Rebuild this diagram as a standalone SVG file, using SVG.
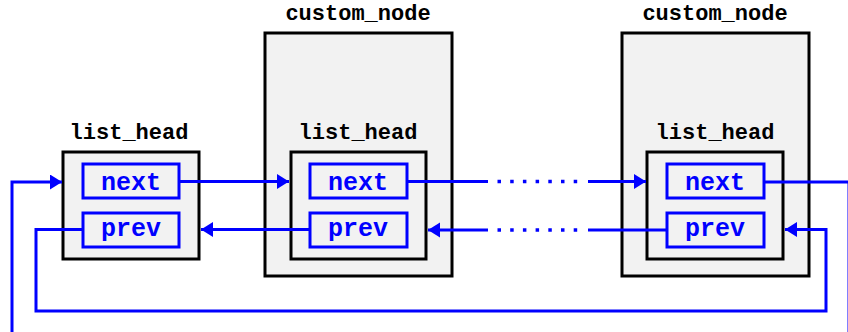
<svg xmlns="http://www.w3.org/2000/svg" width="848" height="332" viewBox="0 0 848 332">
  <style>
    .outer { fill: #f2f2f2; stroke: #000; stroke-width: 3; }
    .field { fill: #f2f2f2; stroke: #0000ff; stroke-width: 3; }
    .title { font-family: "Liberation Mono", "Courier New", monospace; font-weight: bold; font-size: 22px; fill: #000; text-anchor: middle; }
    .ftext { font-family: "Liberation Mono", "Courier New", monospace; font-weight: bold; font-size: 25px; fill: #0000ff; text-anchor: middle; }
    .link { fill: none; stroke: #0000ff; stroke-width: 3; }
    .dots { fill: none; stroke: #0000ff; stroke-width: 3.5; stroke-dasharray: 3.5 9.2; }
  </style>
  <defs>
    <marker id="arrow" markerUnits="userSpaceOnUse" markerWidth="14" markerHeight="16" refX="12" refY="7.5" orient="auto">
      <path d="M0,0 L12,7.5 L0,15 Z" fill="#0000ff"/>
    </marker>
  </defs>

  <!-- head of the list -->
  <g id="head">
    <text class="title" x="129" y="139">list_head</text>
    <rect class="outer" x="63" y="152" width="136" height="107"/>
    <rect class="field" x="83" y="164" width="96" height="34"/>
    <text class="ftext" x="131" y="190">next</text>
    <rect class="field" x="83" y="213" width="96" height="34"/>
    <text class="ftext" x="131" y="236">prev</text>
  </g>

  <!-- first element -->
  <g id="node1">
    <text class="title" x="358" y="20">custom_node</text>
    <rect class="outer" x="265" y="33" width="187" height="243"/>
    <text class="title" x="358" y="139">list_head</text>
    <rect class="outer" x="291" y="152" width="135" height="107"/>
    <rect class="field" x="310" y="164" width="97" height="34"/>
    <text class="ftext" x="358" y="190">next</text>
    <rect class="field" x="310" y="213" width="97" height="34"/>
    <text class="ftext" x="358" y="236">prev</text>
  </g>

  <!-- last element -->
  <g id="node2">
    <text class="title" x="715" y="20">custom_node</text>
    <rect class="outer" x="622" y="33" width="187" height="243"/>
    <text class="title" x="715" y="139">list_head</text>
    <rect class="outer" x="647" y="152" width="136" height="107"/>
    <rect class="field" x="667" y="164" width="97" height="34"/>
    <text class="ftext" x="715" y="190">next</text>
    <rect class="field" x="667" y="213" width="97" height="34"/>
    <text class="ftext" x="715" y="236">prev</text>
  </g>

  <g id="connectors">
    <!-- next pointers -->
    <path class="link" d="M179,181.5 H289" marker-end="url(#arrow)"/>
    <path class="link" d="M407,181.5 H488"/>
    <path class="dots" d="M497.5,181.5 H580"/>
    <path class="link" d="M588,181.5 H646" marker-end="url(#arrow)"/>
    <path class="link" d="M764,182 H849 V332"/>
    <path class="link" d="M12,332 V182 H62" marker-end="url(#arrow)"/>
    <!-- prev pointers -->
    <path class="link" d="M310,229.5 H201" marker-end="url(#arrow)"/>
    <path class="link" d="M667,230 H588"/>
    <path class="dots" d="M497.5,230 H580"/>
    <path class="link" d="M488,230 H428" marker-end="url(#arrow)"/>
    <path class="link" d="M83,229.5 H36 V311 H826 V229.5 H785" marker-end="url(#arrow)"/>
  </g>
</svg>
